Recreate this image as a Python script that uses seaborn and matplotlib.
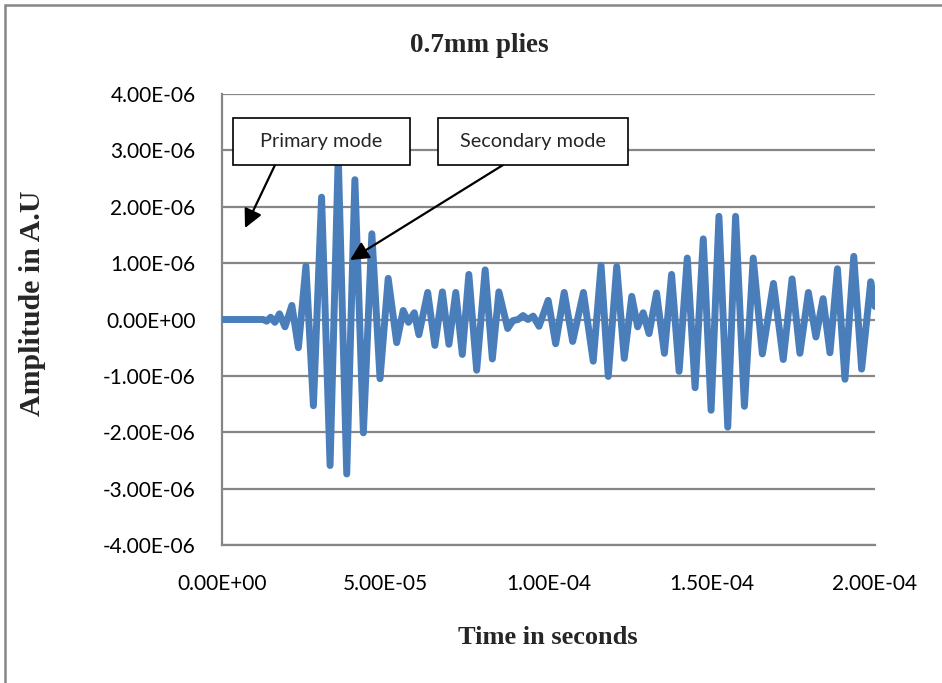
import numpy as np
import pandas as pd
import matplotlib
matplotlib.use("Agg")
import matplotlib.pyplot as plt
from matplotlib.patches import Rectangle
from matplotlib.ticker import FuncFormatter
import seaborn as sns

# waveform turning points
time_us = [0, 12.6, 13.7, 14.9, 16.2, 17.6, 19.3, 21.4, 23.4, 25.7, 28.0, 30.5, 33.1, 35.6,
           38.2, 40.7, 43.3, 45.9, 48.4, 50.9, 53.5, 55.5, 57.1, 58.9, 60.3, 63.0, 65.2, 67.5,
           69.5, 71.6, 73.6, 75.6, 78.0, 80.6, 82.8, 84.8, 87.5, 89.1, 90.7, 92.2, 93.7, 95.3,
           97.1, 99.9, 102.2, 104.8, 107.4, 110.7, 113.7, 116.1, 118.3, 120.9, 123.2, 125.5,
           127.3, 129.0, 130.8, 133.1, 135.5, 137.7, 140.0, 142.5, 144.9, 147.4, 149.8, 152.2,
           154.9, 157.3, 160.0, 162.7, 165.5, 168.9, 171.9, 174.6, 177.0, 179.6, 181.9, 184.1,
           186.2, 188.5, 190.8, 193.5, 195.9, 198.7, 200.0]
amp_micro = [0, 0, -0.03, 0.04, -0.05, 0.10, -0.13, 0.25, -0.50, 0.95, -1.53, 2.17, -2.59, 2.90,
             -2.74, 2.48, -2.01, 1.52, -1.05, 0.73, -0.41, 0.16, -0.05, 0.12, -0.27, 0.48, -0.46,
             0.49, -0.44, 0.48, -0.62, 0.80, -0.90, 0.88, -0.70, 0.49, -0.16, -0.02, 0.0, 0.07,
             0.0, 0.06, -0.12, 0.34, -0.43, 0.48, -0.39, 0.48, -0.74, 0.96, -1.01, 0.94, -0.69,
             0.41, -0.13, 0.12, -0.25, 0.47, -0.60, 0.80, -0.92, 1.09, -1.21, 1.43, -1.61, 1.83,
             -1.91, 1.83, -1.54, 1.09, -0.61, 0.64, -0.71, 0.72, -0.60, 0.48, -0.31, 0.37, -0.59,
             0.90, -1.06, 1.12, -0.88, 0.67, 0.23]

x_ticks = [0, 5e-5, 1e-4, 1.5e-4, 2e-4]
y_ticks = [-4e-6, -3e-6, -2e-6, -1e-6, 0, 1e-6, 2e-6, 3e-6, 4e-6]

df = pd.DataFrame({"time": np.array(time_us) * 1e-6, "amp": np.array(amp_micro) * 1e-6})

sns.set_style("white")
plt.rcParams['font.family'] = ['Lato', 'DejaVu Sans']

fig = plt.figure(figsize=(9.42, 6.83), dpi=100)
W, H = 942, 683
ax = fig.add_axes([222 / W, 1 - 545 / H, 653 / W, 451 / H])

grey = '#868686'
sns.lineplot(data=df, x="time", y="amp", ax=ax, color='#4A7EBB',
             estimator=None, sort=False, zorder=3)
wave = ax.lines[0]
wave.set_linewidth(5.0)
wave.set_solid_joinstyle('round')
wave.set_solid_capstyle('round')

ax.set_xlim(0, 2e-4)
ax.set_ylim(-4e-6, 4e-6)
ax.set_xticks(x_ticks)
ax.set_yticks(y_ticks)
fmt = FuncFormatter(lambda v, p: f"{v:.2E}")
ax.xaxis.set_major_formatter(fmt)
ax.yaxis.set_major_formatter(fmt)
ax.tick_params(axis='x', length=0, pad=21, labelsize=15, colors='black')
ax.tick_params(axis='y', length=0, pad=19, labelsize=15, colors='black')
ax.yaxis.grid(True, color=grey, lw=1.6, zorder=1)
ax.set_axisbelow(True)
for s in ['top', 'right']:
    ax.spines[s].set_visible(False)
for s in ['left', 'bottom']:
    ax.spines[s].set_color(grey)
    ax.spines[s].set_linewidth(1.6)
ax.set_xlabel("")
ax.set_ylabel("")

serif = ['Liberation Serif', 'DejaVu Serif']
fig.text(479 / W, 1 - 46 / H, "0.7mm plies", ha='center', va='center',
         family=serif, fontweight='bold', fontsize=19.5)
fig.text(548 / W, 1 - 637 / H, "Time in seconds", ha='center', va='center',
         family=serif, fontweight='bold', fontsize=19)
fig.text(33 / W, 1 - 303 / H, "Amplitude in A.U", ha='center', va='center',
         rotation=90, family=serif, fontweight='bold', fontsize=21.5)

# annotation boxes and arrows (Excel shapes on top of the plot)
def box(x0, x1, y0, y1, label):
    r = Rectangle((x0 / W, 1 - y1 / H), (x1 - x0) / W, (y1 - y0) / H,
                  transform=fig.transFigure, facecolor='white', edgecolor='black',
                  lw=1.2, zorder=10)
    fig.patches.append(r)
    fig.text((x0 + x1) / 2 / W, 1 - (y0 + y1) / 2 / H, label, ha='center', va='center',
             fontsize=14.3, zorder=11)

box(233, 410, 118, 165, "Primary mode")
box(438, 628, 118, 165, "Secondary mode")

for (x0, y0), (x1, y1) in [((275, 165), (245, 228)), ((503, 165), (350, 260))]:
    ax.annotate("", xy=(x1, H - y1), xycoords='figure pixels',
                xytext=(x0, H - y0), textcoords='figure pixels',
                arrowprops=dict(arrowstyle='-|>', color='black', lw=1.6,
                                mutation_scale=28, shrinkA=0, shrinkB=0),
                zorder=9, annotation_clip=False)

# outer chart border
fig.patches.append(Rectangle((5 / W, -0.01), 1.1, 1 - 5 / H + 0.01, transform=fig.transFigure,
                             fill=False, edgecolor=grey, lw=1.8, zorder=0))

fig.savefig("out.png", dpi=100)
